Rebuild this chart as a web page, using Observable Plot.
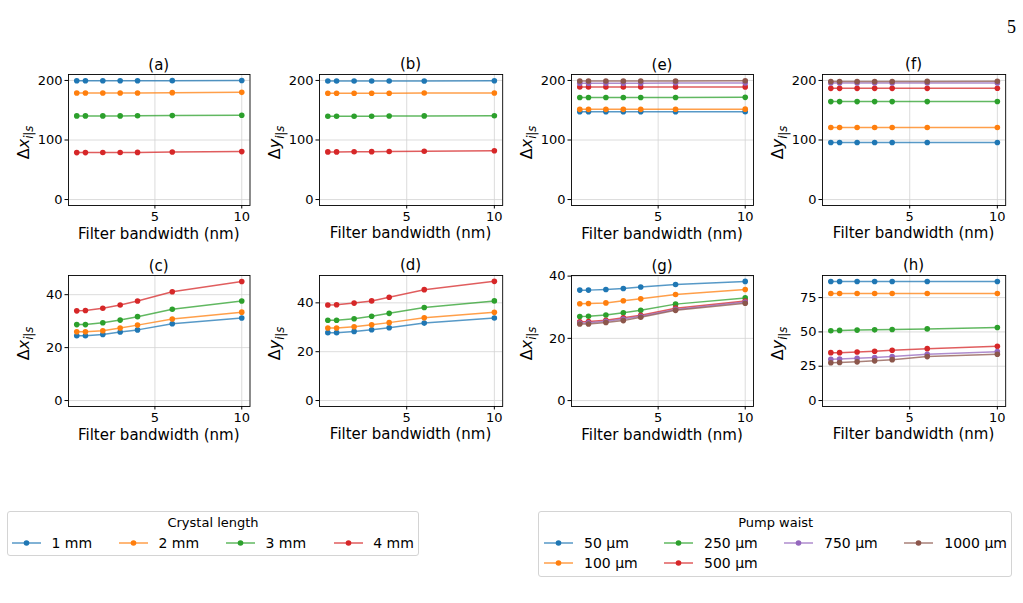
<!DOCTYPE html>
<html>
<head>
<meta charset="utf-8">
<script src="https://cdn.jsdelivr.net/npm/d3@7"></script>
<script src="https://cdn.jsdelivr.net/npm/@observablehq/plot@0.6"></script>
<style>
  html, body { margin: 0; padding: 0; background: #fff; }
  #fig { position: relative; width: 1023px; height: 603px; background: #fff; font-family: "DejaVu Sans", sans-serif; color: #000; overflow: hidden; }
  .abs { position: absolute; }
  .legend-box { position: absolute; border: 1px solid #d4d4d4; border-radius: 3px; box-sizing: border-box; }
  .leg-title { position: absolute; font-size: 13px; transform: translate(-50%, -50%); white-space: nowrap; }
  .leg-text { position: absolute; font-size: 14px; transform: translateY(-50%); white-space: nowrap; }
</style>
</head>
<body>
<div id="fig"></div>
<script>
// Filter bandwidths (nm) shared by every panel
const bandwidth = [0.5, 1, 2, 3, 4, 6, 10];

// Series labels
const crystalLengths = ["1 mm", "2 mm", "3 mm", "4 mm"];
const pumpWaists = ["50 µm", "100 µm", "250 µm", "500 µm", "750 µm", "1000 µm"];

// tab10 colours
const tab10 = ["#1f77b4", "#ff7f0e", "#2ca02c", "#d62728", "#9467bd", "#8c564b"];

// (a) Δx vs bandwidth, one row per crystal length
const panelA = [
  [199.5, 199.5, 199.5, 199.5, 199.5, 199.7, 200],
  [179, 179, 179, 179, 179, 179.5, 180],
  [140.5, 140.5, 140.5, 140.5, 140.6, 141, 141.5],
  [78.8, 78.8, 79, 79, 79.2, 79.8, 80.5]
];
// (b) Δy vs bandwidth, one row per crystal length
const panelB = [
  [199, 199, 199, 199, 199, 199.2, 199.5],
  [178.5, 178.5, 178.5, 178.5, 178.5, 178.8, 179],
  [140, 140, 140, 140, 140.2, 140.5, 140.8],
  [80, 80, 80.2, 80.4, 80.6, 81, 82]
];
// (c) Δx vs bandwidth, one row per crystal length
const panelC = [
  [24.5, 24.5, 25.0, 25.9, 26.7, 29.0, 31.2],
  [26.0, 26.0, 26.4, 27.4, 28.5, 30.8, 33.4],
  [28.7, 28.7, 29.4, 30.4, 31.7, 34.5, 37.6],
  [33.9, 34.0, 34.9, 36.1, 37.6, 41.1, 45.0]
];
// (d) Δy vs bandwidth, one row per crystal length
const panelD = [
  [27.8, 27.8, 28.3, 29.0, 29.8, 31.7, 33.8],
  [29.7, 29.7, 30.2, 31.0, 31.9, 33.9, 36.1],
  [32.9, 32.9, 33.5, 34.5, 35.7, 38.1, 40.8],
  [39.1, 39.2, 39.9, 40.8, 42.3, 45.4, 48.8]
];
// (e) Δx vs bandwidth, one row per pump waist
const panelE = [
  [147.5, 147.5, 147.5, 147.5, 147.5, 147.5, 147.6],
  [151.5, 151.5, 151.5, 151.5, 151.5, 151.6, 151.8],
  [171.5, 171.5, 171.5, 171.5, 171.5, 171.5, 171.6],
  [189, 189, 189, 189, 189, 189, 189.2],
  [195.5, 195.5, 195.5, 195.5, 195.5, 195.6, 195.8],
  [199, 199, 199, 199, 199, 199.2, 199.5]
];
// (f) Δy vs bandwidth, one row per pump waist
const panelF = [
  [95.7, 95.7, 95.7, 95.7, 95.7, 95.7, 95.7],
  [121, 121, 121, 121, 121, 121, 121],
  [164.5, 164.5, 164.5, 164.5, 164.5, 164.5, 164.6],
  [186.7, 186.7, 186.7, 186.7, 186.7, 186.7, 186.8],
  [195.6, 195.6, 195.6, 195.6, 195.6, 195.7, 195.8],
  [198.3, 198.3, 198.3, 198.3, 198.3, 198.4, 198.6]
];
// (g) Δx vs bandwidth, one row per pump waist
const panelG = [
  [35.5, 35.5, 35.7, 36.0, 36.5, 37.3, 38.3],
  [31.1, 31.2, 31.4, 32.1, 32.7, 34.1, 35.7],
  [27.0, 27.1, 27.5, 28.2, 29.0, 31.0, 33.0],
  [25.3, 25.4, 25.8, 26.6, 27.4, 29.7, 32.0],
  [24.9, 25.0, 25.5, 26.2, 27.1, 29.3, 31.7],
  [24.6, 24.6, 25.1, 25.7, 26.8, 29.0, 31.3]
];
// (h) Δy vs bandwidth, one row per pump waist
const panelH = [
  [86.7, 86.7, 86.7, 86.7, 86.7, 86.7, 86.7],
  [78.0, 78.0, 78.0, 78.0, 78.0, 78.0, 78.0],
  [50.8, 51.1, 51.3, 51.5, 51.8, 52.2, 53.2],
  [34.9, 34.9, 35.4, 35.9, 36.6, 37.8, 39.5],
  [30.1, 30.3, 30.8, 31.3, 32.0, 33.7, 35.6],
  [27.5, 27.7, 28.2, 28.9, 29.8, 32.0, 33.7]
];

// y-axis tick values
const ticksBig = [0, 100, 200];
const ticksC = [0, 20, 40];
const ticksD = [0, 20, 40];
const ticksG = [0, 20, 40];
const ticksH = [0, 25, 50, 75];
const ticksX = [5, 10];

const fig = document.getElementById("fig");

// Panel frames (page pixels) and scale settings
const colL = [68, 318.5, 570.7, 822.3];
const colR = [249.5, 501.7, 752.7, 1005.5];
const rowT = [74, 275];
const rowB = [205, 406];

const panels = [
  { title: "(a)", values: panelA, labels: crystalLengths, v: "x", col: 0, row: 0, domain: [-10, 210], ticks: ticksBig },
  { title: "(b)", values: panelB, labels: crystalLengths, v: "y", col: 1, row: 0, domain: [-10, 210], ticks: ticksBig },
  { title: "(e)", values: panelE, labels: pumpWaists, v: "x", col: 2, row: 0, domain: [-10, 210], ticks: ticksBig },
  { title: "(f)", values: panelF, labels: pumpWaists, v: "y", col: 3, row: 0, domain: [-10, 210], ticks: ticksBig },
  { title: "(c)", values: panelC, labels: crystalLengths, v: "x", col: 0, row: 1, domain: [-2.25, 47.25], ticks: ticksC },
  { title: "(d)", values: panelD, labels: crystalLengths, v: "y", col: 1, row: 1, domain: [-2.44, 51.2], ticks: ticksD },
  { title: "(g)", values: panelG, labels: pumpWaists, v: "x", col: 2, row: 1, domain: [-1.9, 40.2], ticks: ticksG },
  { title: "(h)", values: panelH, labels: pumpWaists, v: "y", col: 3, row: 1, domain: [-4.34, 91.1], ticks: ticksH }
];

const ml = 60, mr = 12, mt = 30, mb = 48;
const gridStyle = { stroke: "#d3d3d3", strokeOpacity: 1, strokeWidth: 0.8 };

for (const p of panels) {
  const L = colL[p.col], R = colR[p.col], T = rowT[p.row], B = rowB[p.row];
  const W = R - L, H = B - T;

  // one line + markers per series, drawn in order so later series sit on top
  const seriesMarks = p.values.flatMap((vals, i) => {
    const rows = vals.map((y, j) => ({ x: bandwidth[j], y }));
    return [
      Plot.line(rows, { x: "x", y: "y", stroke: tab10[i], strokeWidth: 1.5, strokeOpacity: 0.75 }),
      Plot.dot(rows, { x: "x", y: "y", fill: tab10[i], r: 2.8 })
    ];
  });

  const chart = Plot.plot({
    width: W + ml + mr,
    height: H + mt + mb,
    marginLeft: ml, marginRight: mr, marginTop: mt, marginBottom: mb,
    style: { fontFamily: "DejaVu Sans", fontSize: "13px", color: "#000", background: "transparent", overflow: "visible" },
    x: { domain: [0.025, 10.475] },
    y: { domain: p.domain },
    marks: [
      Plot.gridX(ticksX, gridStyle),
      Plot.gridY(p.ticks, gridStyle),
      ...seriesMarks,
      Plot.axisX(ticksX, { tickSize: 3.5, tickPadding: 2.5, label: null, fontSize: 13 }),
      Plot.axisY(p.ticks, { tickSize: 3.5, tickPadding: 2.5, label: null, fontSize: 13 }),
      Plot.frame({ stroke: "#000", strokeWidth: 0.9 })
    ]
  });

  chart.style.position = "absolute";
  chart.style.left = (L - ml) + "px";
  chart.style.top = (T - mt) + "px";

  const svg = d3.select(chart);
  // panel title
  svg.append("text")
    .attr("x", ml + W / 2).attr("y", mt - 4.5)
    .attr("text-anchor", "middle").attr("font-size", 15).attr("fill", "#000")
    .text(p.title);
  // x-axis label
  svg.append("text")
    .attr("x", ml + W / 2).attr("y", mt + H + 33.5)
    .attr("text-anchor", "middle").attr("font-size", 15).attr("fill", "#000")
    .text("Filter bandwidth (nm)");
  // y-axis label Δx_{i|s} / Δy_{i|s}
  const yl = svg.append("text")
    .attr("transform", `translate(${ml - 39},${mt + H / 2 + 3}) rotate(-90)`)
    .attr("text-anchor", "middle").attr("font-size", 16).attr("fill", "#000");
  yl.append("tspan").text("Δ");
  yl.append("tspan").attr("font-style", "italic").text(p.v);
  yl.append("tspan").attr("font-size", 11.5).attr("font-style", "italic").attr("dy", 3.5).text("i|s");

  fig.appendChild(chart);
}

// Legends
function swatch(x, y, color) {
  const s = d3.create("svg").attr("width", 29).attr("height", 8)
    .style("position", "absolute").style("left", x + "px").style("top", (y - 4) + "px");
  s.append("line").attr("x1", 0).attr("x2", 29).attr("y1", 4).attr("y2", 4)
    .attr("stroke", color).attr("stroke-width", 1.5).attr("stroke-opacity", 0.75);
  s.append("circle").attr("cx", 14.5).attr("cy", 4).attr("r", 2.8).attr("fill", color);
  fig.appendChild(s.node());
}
function legend(box, title, titleX, entries) {
  const b = document.createElement("div");
  b.className = "legend-box";
  Object.assign(b.style, { left: box[0] + "px", top: box[1] + "px", width: box[2] + "px", height: box[3] + "px" });
  fig.appendChild(b);
  const t = document.createElement("div");
  t.className = "leg-title";
  t.style.left = titleX + "px"; t.style.top = "522px";
  t.textContent = title;
  fig.appendChild(t);
  for (const e of entries) {
    swatch(e.lx, e.y, e.color);
    const d = document.createElement("div");
    d.className = "leg-text";
    d.style.left = e.tx + "px"; d.style.top = e.y + "px";
    d.textContent = e.label;
    fig.appendChild(d);
  }
}

const legCols1 = [12, 119, 226, 333.7];
legend([7, 511, 412, 45], "Crystal length", 213,
  crystalLengths.map((label, i) => ({ label, color: tab10[i], lx: legCols1[i], tx: legCols1[i] + 39.5, y: 542.7 })));

const legCols2 = [544, 664, 784, 904.3];
const legRows2 = [542.7, 563.3];
const waistSlots = [[0, 0], [0, 1], [1, 0], [1, 1], [2, 0], [3, 0]];
legend([538.3, 511, 474, 65.5], "Pump waist", 775.7,
  pumpWaists.map((label, i) => ({
    label, color: tab10[i],
    lx: legCols2[waistSlots[i][0]], tx: legCols2[waistSlots[i][0]] + 40,
    y: legRows2[waistSlots[i][1]]
  })));

// page number
const pg = document.createElement("div");
pg.className = "abs";
Object.assign(pg.style, { left: "1007px", top: "17px", fontFamily: "'Liberation Serif', 'DejaVu Serif', serif", fontSize: "18px" });
pg.textContent = "5";
fig.appendChild(pg);
</script>
</body>
</html>
